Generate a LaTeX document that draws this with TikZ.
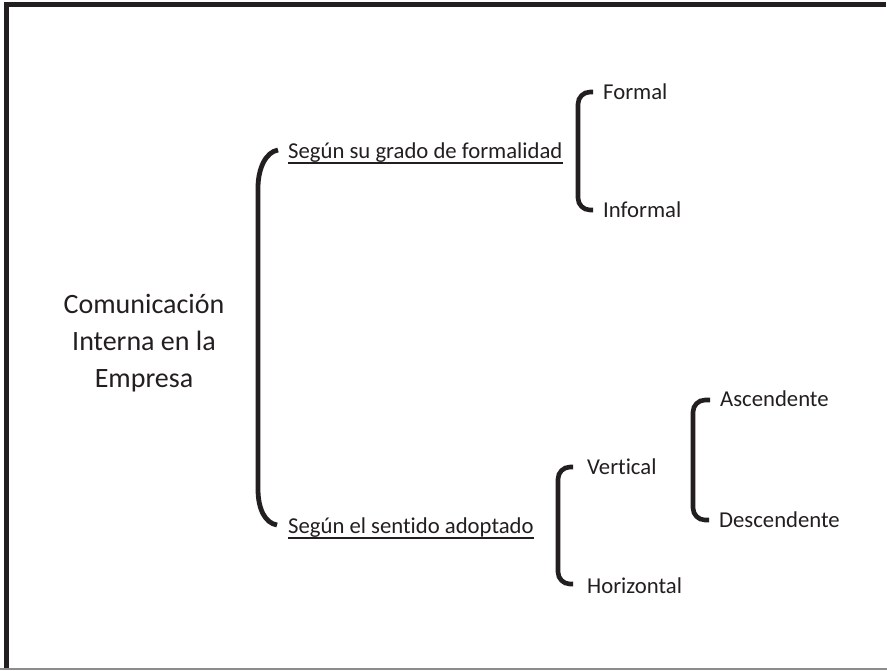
\documentclass[tikz,border=0pt]{standalone}
\usepackage{fontspec}
\setmainfont{Carlito}[Ligatures=NoCommon]
\usetikzlibrary{calc}
\definecolor{ink}{HTML}{231F20}
\begin{document}
\begin{tikzpicture}[x=1pt,y=-1pt,
  title/.style={align=center, inner sep=0pt, text=ink,
    font=\fontsize{28}{37}\selectfont},
  lbl/.style={anchor=base west, inner sep=0pt, text=ink,
    font=\fontsize{22.7}{27}\selectfont},
  uline/.style={draw=ink, line width=1.4pt},
  brk/.style={draw=ink, line width=4.6pt, rounded corners=12pt},
  bigbrk/.style={draw=ink, line width=4.8pt}]
\useasboundingbox (0,0) rectangle (887,670);
\fill[white] (0,0) rectangle (887,670);
% page frame
\draw[ink, line width=5pt] (6.5,670) -- (6.5,4.5) -- (886,4.5);
\draw[black!45, line width=2pt] (0,668.5) -- (887,668.5);

% texts
\node[title] (root) at (144,343) {Comunicación\\Interna en la\\Empresa};
\node[lbl] (grado) at (288,158) {Según su grado de formalidad};
\node[lbl] (sentido) at (288,533) {Según el sentido adoptado};
\node[lbl] (formal) at (603,99) {Formal};
\node[lbl] (informal) at (603,217) {Informal};
\node[lbl] (vertical) at (587,474) {Vertical};
\node[lbl] (horizontal) at (587,593) {Horizontal};
\node[lbl] (asc) at (720,406) {Ascendente};
\node[lbl] (desc) at (719,527) {Descendente};

% underlines of the two criteria
\draw[uline] ($(grado.base west)+(0,5)$) -- ($(grado.base east)+(0,5)$);
\draw[uline] ($(sentido.base west)+(0,5)$) -- ($(sentido.base east)+(0,5)$);

% main bracket
\coordinate (g1) at ($(grado.base west)+(-10,-8)$);
\coordinate (g2) at ($(g1)+(-20,38)$);
\coordinate (s1) at ($(sentido.base west)+(-11,-8)$);
\coordinate (s2) at ($(s1)+(-19,-36)$);
\draw[bigbrk] (g1) .. controls +(-12,2) and +(0,-20) .. (g2) -- (s2)
  .. controls +(0,20) and +(-12,-2) .. (s1);

% secondary brackets
\draw[brk] ($(formal.base west)+(-10,-7)$) -- ++(-15,0)
  -- ($(informal.base west)+(-25,-7)$) -- ++(15,0);
\draw[brk] ($(vertical.base west)+(-14,-7)$) -- ++(-15,0)
  -- ($(horizontal.base west)+(-29,-9)$) -- ++(15,0);
\draw[brk] ($(asc.base west)+(-10,-6)$) -- ++(-17,0)
  -- ($(desc.base west)+(-26,-7)$) -- ++(16,0);
\end{tikzpicture}
\end{document}
